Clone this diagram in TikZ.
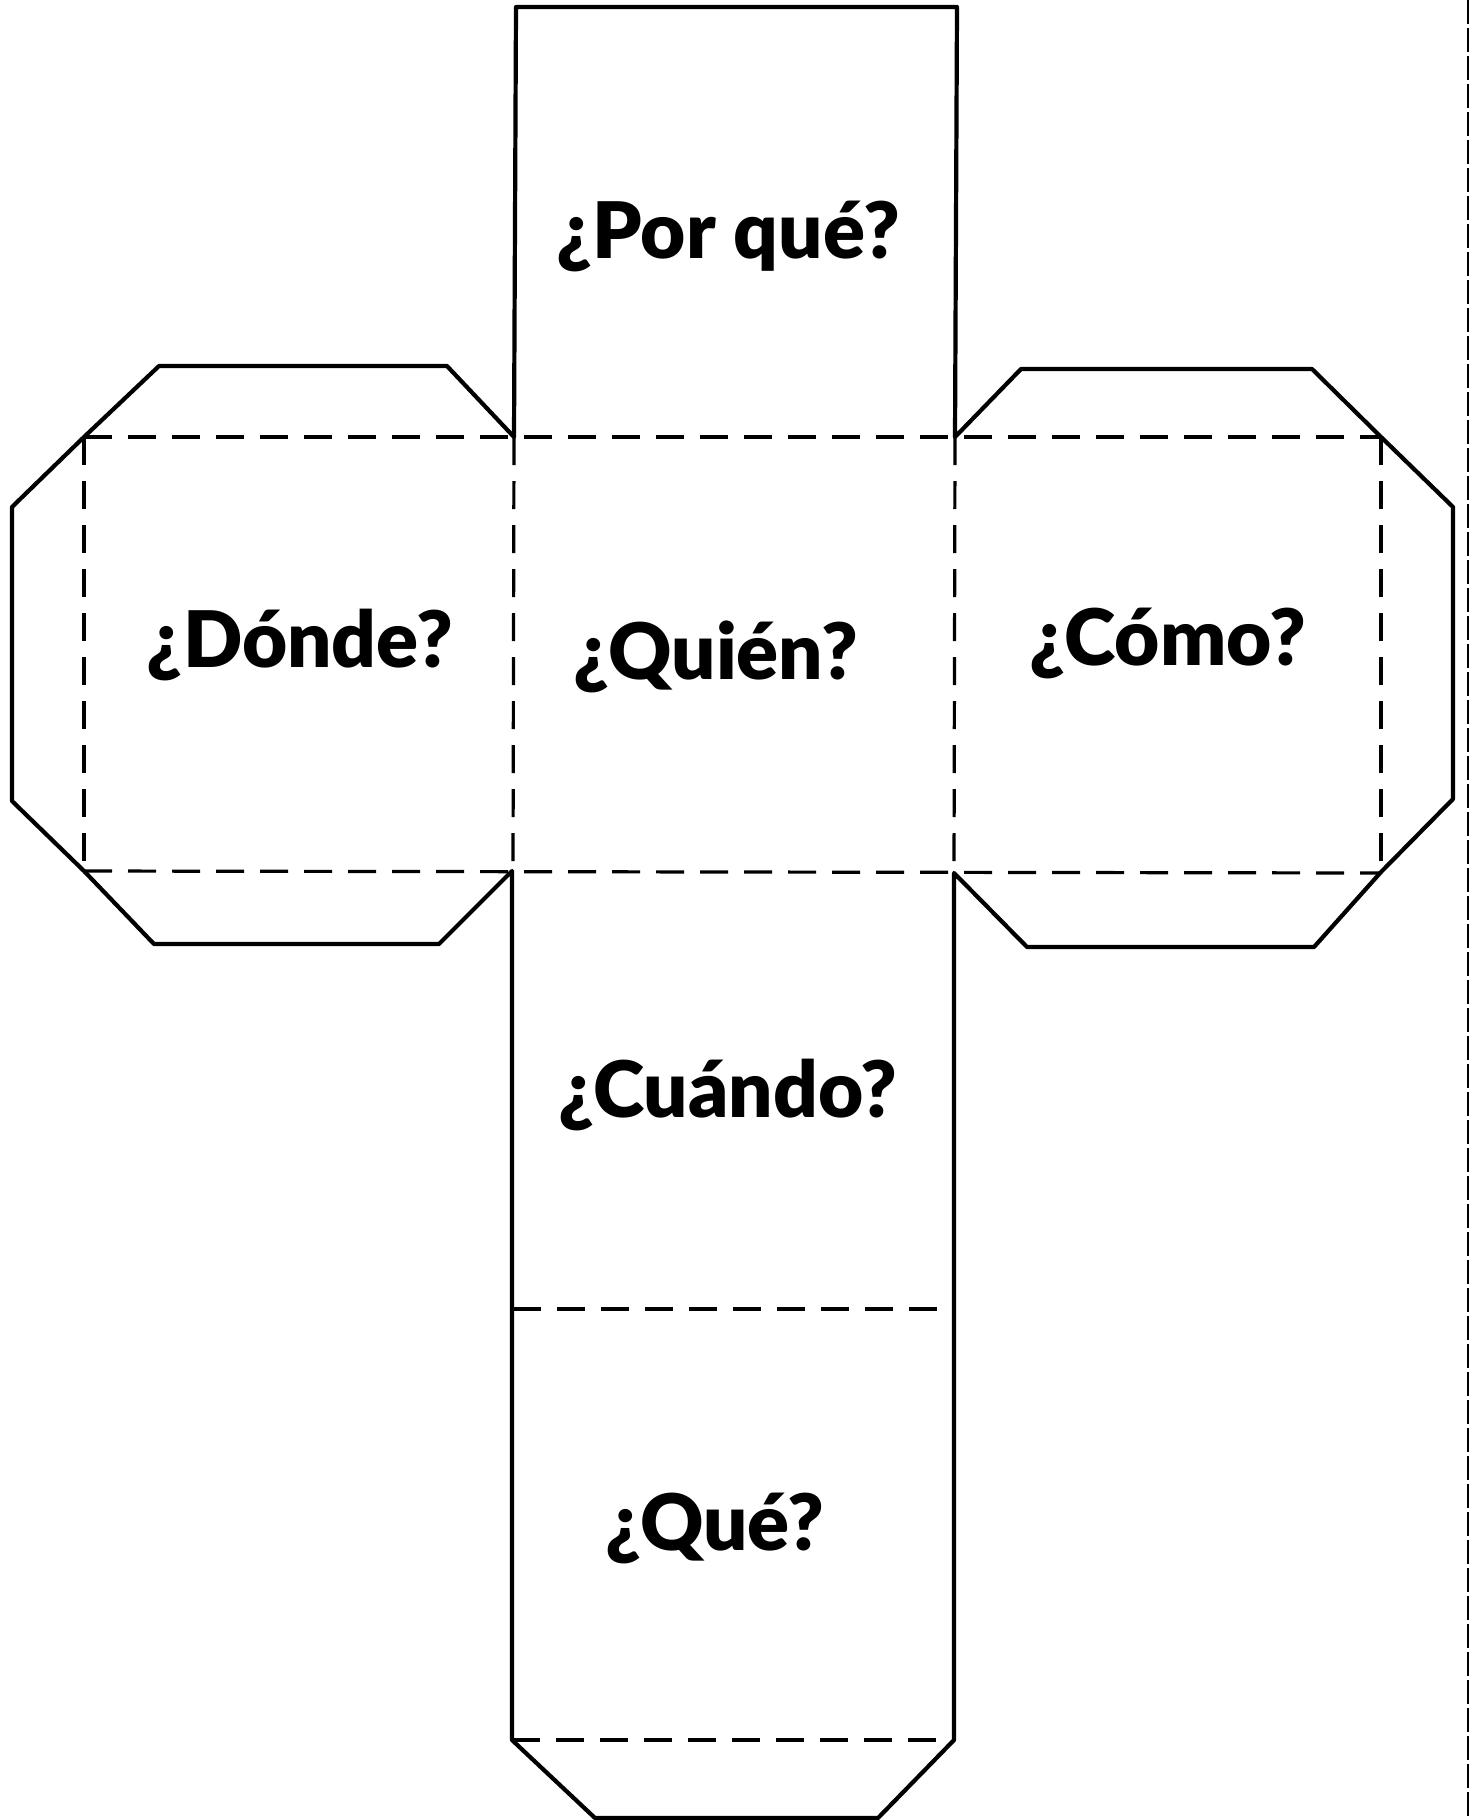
\documentclass[tikz,border=0pt]{standalone}
\usepackage{fontspec}
\setmainfont{Lato}
\newfontfamily\lblack{Lato Black}
\begin{document}
\begin{tikzpicture}[x=0.5pt,y=-0.5pt,
  cut/.style={line width=2.1pt,line join=round},
  fold/.style={line width=1.6pt,dash pattern=on 14pt off 8pt},
  edge/.style={line width=1.2pt,dash pattern=on 12pt off 2pt},
  lbl/.style={font=\lblack\fontsize{39}{41}\selectfont,anchor=base,inner sep=0pt}]
\useasboundingbox (0,0) rectangle (1473,1820);
% outline
\draw[cut] (516,7) -- (957,7) -- (955,437) -- (1021,369) -- (1312,369) -- (1381,437)
  -- (1453,507) -- (1453,799) -- (1381,872) -- (1314,947) -- (1027,947) -- (954,873)
  -- (954,1740) -- (878,1818) -- (595,1818) -- (512,1740) -- (512,871) -- (439,944)
  -- (154,944) -- (84,871) -- (12,801) -- (12,507) -- (84,437) -- (159,366)
  -- (447,366) -- (514,437) -- cycle;
% fold lines
\draw[fold] (84,437) -- (1381,437);
\draw[fold] (84,871) -- (1381,873);
\draw[fold] (84,437) -- (84,871);
\draw[fold] (514,437) -- (513,871);
\draw[fold] (955,437) -- (954,873);
\draw[fold] (1381,437) -- (1381,873);
\draw[fold] (513,1309) -- (954,1309);
\draw[fold] (512,1740) -- (954,1740);
% cutting line at right edge
\draw[edge] (1468,0) -- (1468,1820);
% labels
\node[lbl] (porque) at (728,258) {¿Por qué?};
\node[lbl] (donde) at (300,667) {¿Dónde?};
\node[lbl] (quien) at (716,679) {¿Quién?};
\node[lbl] (como) at (1168,665) {¿Cómo?};
\node[lbl] (cuando) at (728,1117) {¿Cuándo?};
\node[lbl] (que) at (715,1550) {¿Qué?};
\end{tikzpicture}
\end{document}
